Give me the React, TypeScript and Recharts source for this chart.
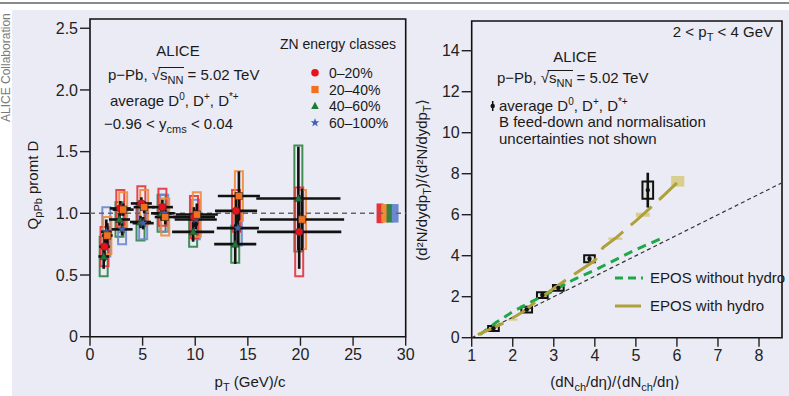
import React from 'react'
import { ComposedChart, Scatter, Line, XAxis, YAxis, ErrorBar, ReferenceArea, ReferenceLine } from 'recharts'

const FONT = "'Liberation Sans', Arial, sans-serif"

// ---- left panel: Q_pPb of prompt D mesons vs pT, in ZN energy classes
const ptCenters = [1.5, 3, 5, 7, 10, 14, 20]
const ptHalfWidths = [0.5, 1, 1, 1, 2, 2, 4]
const ptTicks = [0, 5, 10, 15, 20, 25, 30]
const qTicks = [0, 0.5, 1, 1.5, 2, 2.5]

const cl0Values = [0.73, 1.04, 1.08, 1.05, 0.97, 1.02, 0.85]
const cl0Stat = [0.12, 0.06, 0.05, 0.06, 0.08, 0.15, 0.3]
const cl0Syst = [0.16, 0.15, 0.14, 0.15, 0.17, 0.17, 0.36]

const cl1Values = [0.82, 1.03, 1.05, 0.97, 0.99, 1.14, 0.95]
const cl1Stat = [0.1, 0.05, 0.05, 0.06, 0.09, 0.2, 0.25]
const cl1Syst = [0.15, 0.14, 0.14, 0.15, 0.18, 0.2, 0.24]

const cl2Values = [0.65, 0.95, 0.93, 1.0, 0.85, 0.75, 1.12]
const cl2Stat = [0.1, 0.05, 0.05, 0.06, 0.08, 0.16, 0.42]
const cl2Syst = [0.16, 0.14, 0.15, 0.15, 0.12, 0.15, 0.43]

const cl3Values = [0.85, 0.87, 0.92, 1.0, 0.95, 0.88]
const cl3Stat = [0.1, 0.05, 0.05, 0.06, 0.08, 0.15]
const cl3Syst = [0.2, 0.12, 0.13, 0.15, 0.16, 0.14]

const classNames = ['0–20%', '20–40%', '40–60%', '60–100%']
const normCenters = [27.55, 28.0, 28.5, 29.0]
const normErrors = [0.08, 0.075, 0.075, 0.075]

// ---- right panel: self-normalised D yield vs multiplicity, 2 < pT < 4 GeV
const multX = [1.53, 2.34, 2.72, 3.11, 3.87, 5.29]
const yieldY = [0.45, 1.37, 2.08, 2.43, 3.85, 7.2]
const yieldStat = [0.06, 0.08, 0.08, 0.08, 0.12, 0.85]
const yieldSyst = [0.12, 0.14, 0.14, 0.14, 0.17, 0.42]
const multSyst = [0.13, 0.13, 0.13, 0.13, 0.13, 0.13]

const eposNoHydroX = [1.2, 1.6, 2.0, 2.5, 3.0, 3.5, 4.0, 4.5, 5.0, 5.6]
const eposNoHydroY = [0.15, 0.75, 1.27, 1.8, 2.3, 2.85, 3.3, 3.8, 4.3, 4.82]

const eposHydroX = [1.15, 1.5, 1.85, 2.25, 2.85, 3.5, 4.0, 4.2, 4.5, 5.0, 5.5, 6.0]
const eposHydroY = [0.15, 0.45, 0.78, 1.27, 2.2, 3.1, 3.76, 4.4, 4.85, 5.7, 6.6, 7.55]
const eposHydroBoxX = [2.0, 3.2, 4.5, 5.17, 6.02]
const eposHydroBoxY = [0.88, 2.6, 4.83, 6.0, 7.63]
const eposHydroBoxDX = [0.12, 0.1, 0.17, 0.17, 0.16]
const eposHydroBoxDY = [0.05, 0.05, 0.06, 0.1, 0.26]

const diagX = [1, 8.56]
const diagY = [0, 7.56]
const multTicks = [1, 2, 3, 4, 5, 6, 7, 8]
const yieldTicks = [0, 2, 4, 6, 8, 10, 12, 14]

const RED = '#e8121c'
const ORANGE = '#f2701e'
const GREEN = '#1d7a36'
const BLUE = '#4262b4'
const OLIVE = '#aea03a'
const TAN = '#d8cf8e'
const EPOSGREEN = '#1fa84a'

const circleShape = (c: string, edge = true) => (p: any) => (
  <circle cx={p.cx} cy={p.cy} r={3.8} fill={c} stroke={edge ? '#333' : 'none'} strokeWidth={0.6} />
)
const squareShape = (c: string, edge = true) => (p: any) => (
  <rect x={p.cx - 3.6} y={p.cy - 3.6} width={7.2} height={7.2} fill={c} stroke={edge ? '#333' : 'none'} strokeWidth={0.6} />
)
const triangleShape = (c: string, edge = true) => (p: any) => (
  <polygon
    points={`${p.cx},${p.cy - 4.2} ${p.cx + 3.8},${p.cy + 3} ${p.cx - 3.8},${p.cy + 3}`}
    fill={c}
    stroke={edge ? '#333' : 'none'}
    strokeWidth={0.6}
  />
)
const starShape = (c: string, edge = true) => (p: any) => {
  const pts: string[] = []
  for (let k = 0; k < 10; k++) {
    const r = k % 2 === 0 ? 4.6 : 1.9
    const a = -Math.PI / 2 + (k * Math.PI) / 5
    pts.push(`${p.cx + r * Math.cos(a)},${p.cy + r * Math.sin(a)}`)
  }
  return <polygon points={pts.join(' ')} fill={c} stroke={edge ? '#333' : 'none'} strokeWidth={0.4} />
}

const classes = [
  { name: classNames[0], color: RED, box: '#e6333a', shape: circleShape, offset: -0.12, values: cl0Values, stat: cl0Stat, syst: cl0Syst },
  { name: classNames[1], color: ORANGE, box: '#f28a36', shape: squareShape, offset: 0.15, values: cl1Values, stat: cl1Stat, syst: cl1Syst },
  { name: classNames[2], color: GREEN, box: '#2f8444', shape: triangleShape, offset: -0.2, values: cl2Values, stat: cl2Stat, syst: cl2Syst },
  { name: classNames[3], color: BLUE, box: '#6d88cf', shape: starShape, offset: 0.05, values: cl3Values, stat: cl3Stat, syst: cl3Syst },
]
const boxOrder = [2, 3, 0, 1]
const BOX_HALF = 0.38

const tickStyle = { fontSize: 16, fill: '#222', fontFamily: FONT }
const tickLine = { stroke: '#222', strokeWidth: 1.4 }

function LeftPanel() {
  return (
    <ComposedChart width={420} height={396} margin={{ top: 19, right: 14.3, bottom: 29.3, left: 40 }}>
      <XAxis
        type="number"
        dataKey="x"
        domain={[0, 30]}
        ticks={ptTicks}
        allowDataOverflow
        height={30}
        axisLine={false}
        tickSize={9}
        tickMargin={3}
        tickLine={tickLine}
        tick={tickStyle}
      />
      <YAxis
        type="number"
        dataKey="y"
        domain={[0, 2.575]}
        ticks={qTicks}
        allowDataOverflow
        width={50}
        axisLine={false}
        tickSize={10}
        tickMargin={2}
        tickLine={tickLine}
        tick={tickStyle}
        tickFormatter={(v: number) => (v === 0 ? '0' : v.toFixed(1))}
      />
      <ReferenceLine y={1} stroke="#666" strokeWidth={1.5} strokeDasharray="5 4" />
      {normCenters.map((c, i) => (
        <ReferenceArea
          key={'n' + i}
          x1={c - 0.32}
          x2={c + 0.32}
          y1={1 - normErrors[i]}
          y2={1 + normErrors[i]}
          fill={classes[i].box}
          fillOpacity={1}
          stroke="none"
        />
      ))}
      {boxOrder.map(ci =>
        classes[ci].values.map((v, i) => (
          <ReferenceArea
            key={'b' + ci + '-' + i}
            x1={ptCenters[i] + classes[ci].offset - BOX_HALF}
            x2={ptCenters[i] + classes[ci].offset + BOX_HALF}
            y1={v - classes[ci].syst[i]}
            y2={v + classes[ci].syst[i]}
            fill="none"
            stroke={classes[ci].box}
            strokeWidth={2}
            strokeOpacity={0.9}
          />
        ))
      )}
      <ReferenceArea x1={0} x2={30} y1={0} y2={2.575} fill="none" stroke="#111" strokeWidth={1.6} />
      {boxOrder.map(ci => (
        <Scatter
          key={'s' + ci}
          name={classes[ci].name}
          data={classes[ci].values.map((v, i) => ({
            x: ptCenters[i] + classes[ci].offset,
            y: v,
            ex: ptHalfWidths[i],
            ey: classes[ci].stat[i],
          }))}
          shape={classes[ci].shape(classes[ci].color)}
          isAnimationActive={false}
        >
          <ErrorBar dataKey="ex" direction="x" width={0} stroke="#111" strokeWidth={2.6} />
          <ErrorBar dataKey="ey" direction="y" width={0} stroke="#111" strokeWidth={2.6} />
        </Scatter>
      ))}
    </ComposedChart>
  )
}

function RightPanel() {
  const points = multX.map((x, i) => ({ x, y: yieldY[i], ey: yieldStat[i] }))
  const noHydro = eposNoHydroX.map((x, i) => ({ x, y: eposNoHydroY[i] }))
  const hydro = eposHydroX.map((x, i) => ({ x, y: eposHydroY[i] }))
  const diag = diagX.map((x, i) => ({ x, y: diagY[i] }))
  return (
    <ComposedChart width={389} height={396} margin={{ top: 21, right: 7, bottom: 28.3, left: 31.7 }}>
      <XAxis
        type="number"
        dataKey="x"
        domain={[1, 8.56]}
        ticks={multTicks}
        allowDataOverflow
        height={30}
        axisLine={false}
        tickSize={9}
        tickMargin={3}
        tickLine={tickLine}
        tick={tickStyle}
      />
      <YAxis
        type="number"
        dataKey="y"
        domain={[0, 15.45]}
        ticks={yieldTicks}
        allowDataOverflow
        width={40}
        axisLine={false}
        tickSize={10}
        tickMargin={2}
        tickLine={tickLine}
        tick={tickStyle}
      />
      {eposHydroBoxX.map((x, i) => (
        <ReferenceArea
          key={'t' + i}
          x1={x - eposHydroBoxDX[i]}
          x2={x + eposHydroBoxDX[i]}
          y1={eposHydroBoxY[i] - eposHydroBoxDY[i]}
          y2={eposHydroBoxY[i] + eposHydroBoxDY[i]}
          fill={TAN}
          fillOpacity={1}
          stroke="none"
        />
      ))}
      {multX.map((x, i) => (
        <ReferenceArea
          key={'d' + i}
          x1={x - multSyst[i]}
          x2={x + multSyst[i]}
          y1={yieldY[i] - yieldSyst[i]}
          y2={yieldY[i] + yieldSyst[i]}
          fill="#e4e4e4"
          fillOpacity={1}
          stroke="#111"
          strokeWidth={2}
        />
      ))}
      <ReferenceArea x1={1} x2={8.56} y1={0} y2={15.45} fill="none" stroke="#111" strokeWidth={1.6} />
      <Line data={diag} dataKey="y" stroke="#333" strokeWidth={1.2} strokeDasharray="4 3" dot={false} isAnimationActive={false} />
      <Line data={noHydro} dataKey="y" stroke={EPOSGREEN} strokeWidth={3} strokeDasharray="9 6" dot={false} isAnimationActive={false} />
      <Line data={hydro} dataKey="y" stroke={OLIVE} strokeWidth={3} strokeDasharray="28 10" dot={false} isAnimationActive={false} />
      <Scatter data={points} shape={(p: any) => <circle cx={p.cx} cy={p.cy} r={2.2} fill="#111" />} isAnimationActive={false}>
        <ErrorBar dataKey="ey" direction="y" width={0} stroke="#111" strokeWidth={2.6} />
      </Scatter>
    </ComposedChart>
  )
}

function Annotations() {
  const t = { fontFamily: FONT, fill: '#1a1a1a' }
  const legendRows = [72.7, 89.5, 106, 122.7]
  return (
    <svg width={789} height={396} style={{ position: 'absolute', left: 0, top: 0, pointerEvents: 'none' }}>
      {/* left panel texts */}
      <text {...t} x={178} y={56} fontSize={15} textAnchor="middle">ALICE</text>
      <text {...t} x={108} y={80} fontSize={15}>
        p−Pb, √s<tspan fontSize={11} dy={4}>NN</tspan>
        <tspan dy={-4}> = 5.02 TeV</tspan>
      </text>
      <line x1={158.5} x2={184} y1={67.5} y2={67.5} stroke="#1a1a1a" strokeWidth={1} />
      <text {...t} x={110} y={106} fontSize={15}>
        average D<tspan fontSize={10} dy={-6}>0</tspan>
        <tspan dy={6}>, D</tspan>
        <tspan fontSize={10} dy={-6}>+</tspan>
        <tspan dy={6}>, D</tspan>
        <tspan fontSize={10} dy={-6}>*+</tspan>
      </text>
      <text {...t} x={104} y={129} fontSize={15}>
        −0.96 &lt; y<tspan fontSize={11} dy={4}>cms</tspan>
        <tspan dy={-4}> &lt; 0.04</tspan>
      </text>
      <text {...t} x={280} y={49} fontSize={14}>ZN energy classes</text>
      {classes.map((c, i) => (
        <g key={'lg' + i}>
          {c.shape(c.color, false)({ cx: 315, cy: legendRows[i] })}
          <text {...t} x={329} y={legendRows[i] + 5} fontSize={14}>{c.name}</text>
        </g>
      ))}
      <text {...t} x={38} y={185} fontSize={15} textAnchor="middle" transform="rotate(-90 38 185)">
        Q<tspan fontSize={11} dy={4}>pPb</tspan>
        <tspan dy={-4}> promt D</tspan>
      </text>
      <text {...t} x={250} y={387} fontSize={15} textAnchor="middle">
        p<tspan fontSize={11} dy={4}>T</tspan>
        <tspan dy={-4}> (GeV)/c</tspan>
      </text>

      {/* right panel texts */}
      <text {...t} x={773} y={37} fontSize={15} textAnchor="end">
        2 &lt; p<tspan fontSize={11} dy={4}>T</tspan>
        <tspan dy={-4}> &lt; 4 GeV</tspan>
      </text>
      <text {...t} x={575} y={62} fontSize={15} textAnchor="middle">ALICE</text>
      <text {...t} x={497} y={83} fontSize={15}>
        p−Pb, √s<tspan fontSize={11} dy={4}>NN</tspan>
        <tspan dy={-4}> = 5.02 TeV</tspan>
      </text>
      <line x1={547.5} x2={573} y1={70.5} y2={70.5} stroke="#1a1a1a" strokeWidth={1} />
      <line x1={492.7} x2={492.7} y1={101} y2={111} stroke="#111" strokeWidth={1.5} />
      <circle cx={492.7} cy={106} r={2.2} fill="#111" />
      <text {...t} x={499} y={111} fontSize={15}>
        average D<tspan fontSize={10} dy={-6}>0</tspan>
        <tspan dy={6}>, D</tspan>
        <tspan fontSize={10} dy={-6}>+</tspan>
        <tspan dy={6}>, D</tspan>
        <tspan fontSize={10} dy={-6}>*+</tspan>
      </text>
      <text {...t} x={499} y={127} fontSize={15}>B feed-down and normalisation</text>
      <text {...t} x={499} y={144} fontSize={15}>uncertainties not shown</text>
      <line x1={615} x2={643} y1={278} y2={278} stroke={EPOSGREEN} strokeWidth={3} strokeDasharray="8 5" />
      <text {...t} x={650} y={283} fontSize={15}>EPOS without hydro</text>
      <line x1={615} x2={641} y1={306} y2={306} stroke={OLIVE} strokeWidth={3} />
      <text {...t} x={650} y={311} fontSize={15}>EPOS with hydro</text>
      <text {...t} x={427} y={180} fontSize={15} textAnchor="middle" transform="rotate(-90 427 180)">
        (d²N/dydp<tspan fontSize={11} dy={4}>T</tspan>
        <tspan dy={-4}>)/⟨d²N/dydp</tspan>
        <tspan fontSize={11} dy={4}>T</tspan>
        <tspan dy={-4}>⟩</tspan>
      </text>
      <text {...t} x={615} y={387} fontSize={15} textAnchor="middle">
        (dN<tspan fontSize={11} dy={4}>ch</tspan>
        <tspan dy={-4}>/dη)/⟨dN</tspan>
        <tspan fontSize={11} dy={4}>ch</tspan>
        <tspan dy={-4}>/dη⟩</tspan>
      </text>

      <text x={10} y={122} fontSize={12} fill="#7a7a7a" fontFamily={FONT} transform="rotate(-90 10 122)">
        ALICE Collaboration
      </text>
    </svg>
  )
}

export default function App() {
  return (
    <div style={{ position: 'relative', width: 789, height: 396, background: '#fff', overflow: 'hidden' }}>
      <style>{'body{margin:0}'}</style>
      <div style={{ position: 'absolute', left: 0, top: 2, width: 789, height: 2, background: '#8a8a8a' }} />
      <div style={{ position: 'absolute', left: 12, top: 10, width: 777, height: 386, background: '#ebebf5' }} />
      <div style={{ position: 'absolute', left: 0, top: 0 }}>
        <LeftPanel />
      </div>
      <div style={{ position: 'absolute', left: 400, top: 0 }}>
        <RightPanel />
      </div>
      <Annotations />
    </div>
  )
}
